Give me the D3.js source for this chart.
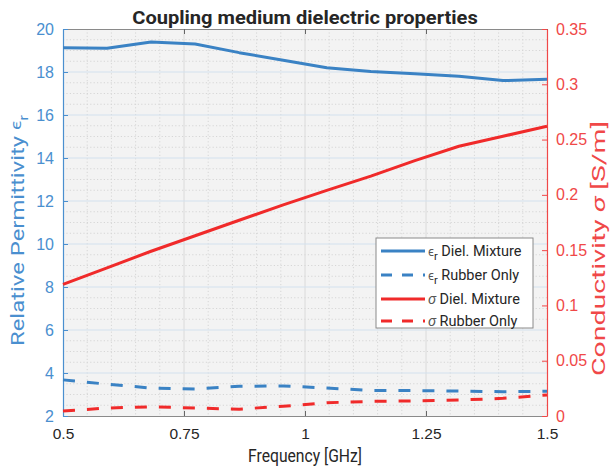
<!DOCTYPE html>
<html>
<head>
<meta charset="utf-8">
<script src="https://cdn.jsdelivr.net/npm/d3@7"></script>
<style>
  html, body { margin: 0; padding: 0; background: #fff; }
  svg { display: block; font-family: Roboto, "Noto Sans", sans-serif; }
</style>
</head>
<body>
<svg id="chart" width="612" height="470"></svg>
<script>
// Frequency sweep, 12 points from 0.5 to 1.5 GHz
const freqGHz = [0.5, 0.591, 0.682, 0.773, 0.864, 0.955, 1.045, 1.136, 1.227, 1.318, 1.409, 1.5];

// Relative permittivity (left axis)
const epsMixture = [19.13, 19.1, 19.4, 19.3, 18.9, 18.55, 18.2, 18.02, 17.92, 17.8, 17.6, 17.66];
const epsRubber  = [3.68, 3.48, 3.3, 3.26, 3.38, 3.4, 3.3, 3.19, 3.18, 3.16, 3.13, 3.15];

// Conductivity in S/m (right axis)
const sigMixture = [0.119, 0.134, 0.149, 0.163, 0.177, 0.191, 0.204, 0.217, 0.231, 0.244, 0.253, 0.262];
const sigRubber  = [0.0045, 0.0072, 0.0083, 0.0072, 0.0062, 0.0088, 0.0120, 0.0132, 0.0137, 0.0144, 0.0160, 0.0190];

// Tick values and labels
const xTicks = [0.5, 0.75, 1, 1.25, 1.5];
const xTickLabels = ["0.5", "0.75", "1", "1.25", "1.5"];
const epsTicks = [2, 4, 6, 8, 10, 12, 14, 16, 18, 20];
const sigTicks = [0, 0.05, 0.1, 0.15, 0.2, 0.25, 0.3, 0.35];
const sigTickLabels = ["0", "0.05", "0.1", "0.15", "0.2", "0.25", "0.3", "0.35"];

const legendLabels = [
  { sym: "\u03F5", sub: "r", text: " Diel. Mixture" },
  { sym: "\u03F5", sub: "r", text: " Rubber Only" },
  { sym: "\u03C3", sub: "", text: " Diel. Mixture" },
  { sym: "\u03C3", sub: "", text: " Rubber Only" }
];

const BLUE = "#3a82c4", BLUE_TXT = "#4a8fcf";
const RED = "#f02a2a", RED_TXT = "#f04848";
const DARK = "#262626";

const svg = d3.select("#chart");
const m = { left: 63, right: 547, top: 29, bottom: 416 };

const x = d3.scaleLinear().domain([0.5, 1.5]).range([m.left, m.right]);
const yL = d3.scaleLinear().domain([2, 20]).range([m.bottom, m.top]);
const yR = d3.scaleLinear().domain([0, 0.35]).range([m.bottom, m.top]);

// Stretch a text element along its own baseline to a given length
function fitLength(sel, target) {
  const w = sel.node().getBBox().width;
  const k = target / w;
  sel.attr("transform", (sel.attr("transform") || "") + ` scale(${k},1)`);
}

// Plot background
svg.append("rect")
  .attr("x", m.left).attr("y", m.top)
  .attr("width", m.right - m.left).attr("height", m.bottom - m.top)
  .attr("fill", "#f3f3f3");

const grid = svg.append("g");

// Minor grid (dotted)
const xMinor = d3.range(0.55, 1.5, 0.05).filter(v => Math.abs((v - 0.5) / 0.25 - Math.round((v - 0.5) / 0.25)) > 1e-6);
grid.selectAll(".xminor").data(xMinor).join("line")
  .attr("x1", d => x(d)).attr("x2", d => x(d))
  .attr("y1", m.top).attr("y2", m.bottom)
  .attr("stroke", "#d6d6d6").attr("stroke-width", 1).attr("stroke-dasharray", "1.2,2.2");
const yMinor = d3.range(2.5, 20, 0.5).filter(v => Math.abs(v / 2 - Math.round(v / 2)) > 1e-6);
grid.selectAll(".yminor").data(yMinor).join("line")
  .attr("x1", m.left).attr("x2", m.right)
  .attr("y1", d => yL(d)).attr("y2", d => yL(d))
  .attr("stroke", "#d6d6d6").attr("stroke-width", 1).attr("stroke-dasharray", "1.2,2.2");

// Major grid
grid.selectAll(".xmajor").data(xTicks.slice(1, -1)).join("line")
  .attr("x1", d => x(d)).attr("x2", d => x(d))
  .attr("y1", m.top).attr("y2", m.bottom)
  .attr("stroke", "#dadada").attr("stroke-width", 1);
grid.selectAll(".ymajor").data(epsTicks.slice(1, -1)).join("line")
  .attr("x1", m.left).attr("x2", m.right)
  .attr("y1", d => yL(d)).attr("y2", d => yL(d))
  .attr("stroke", "#d3e1ee").attr("stroke-width", 1);

// Axes
const xBottom = d3.axisBottom(x).tickValues(xTicks).tickFormat((d, i) => xTickLabels[i]).tickSizeInner(-5).tickSizeOuter(0).tickPadding(12);
const gx = svg.append("g").attr("transform", `translate(0,${m.bottom})`).call(xBottom);
gx.select(".domain").attr("stroke", "#8a8a8a").attr("stroke-width", 1.2);
gx.selectAll(".tick line").attr("stroke", "#666");
gx.selectAll(".tick text").attr("fill", DARK).attr("font-size", 15.5);

const xTop = d3.axisTop(x).tickValues(xTicks).tickFormat("").tickSizeInner(-5).tickSizeOuter(0);
const gxt = svg.append("g").attr("transform", `translate(0,${m.top})`).call(xTop);
gxt.select(".domain").attr("stroke", "#8a8a8a").attr("stroke-width", 1.2);
gxt.selectAll(".tick line").attr("stroke", "#666");

const yLeft = d3.axisLeft(yL).tickValues(epsTicks).tickSizeInner(-5).tickSizeOuter(0).tickPadding(9);
const gyl = svg.append("g").attr("transform", `translate(${m.left},0)`).call(yLeft);
gyl.select(".domain").attr("stroke", BLUE_TXT).attr("stroke-width", 1.2);
gyl.selectAll(".tick line").attr("stroke", BLUE_TXT);
gyl.selectAll(".tick text").attr("fill", BLUE_TXT).attr("font-size", 16);

const yRight = d3.axisRight(yR).tickValues(sigTicks).tickFormat((d, i) => sigTickLabels[i]).tickSizeInner(-5).tickSizeOuter(0).tickPadding(9);
const gyr = svg.append("g").attr("transform", `translate(${m.right},0)`).call(yRight);
gyr.select(".domain").attr("stroke", RED_TXT).attr("stroke-width", 1.2);
gyr.selectAll(".tick line").attr("stroke", RED_TXT);
gyr.selectAll(".tick text").attr("fill", RED_TXT).attr("font-size", 16);

// Data lines
const lineL = d3.line().x((d, i) => x(freqGHz[i])).y(d => yL(d));
const lineR = d3.line().x((d, i) => x(freqGHz[i])).y(d => yR(d));

const series = [
  { data: epsRubber, gen: lineL, color: BLUE, dash: "12,12" },
  { data: sigRubber, gen: lineR, color: RED, dash: "12,12" },
  { data: epsMixture, gen: lineL, color: BLUE, dash: null },
  { data: sigMixture, gen: lineR, color: RED, dash: null }
];
svg.append("g").selectAll("path").data(series).join("path")
  .attr("d", s => s.gen(s.data))
  .attr("fill", "none")
  .attr("stroke", s => s.color)
  .attr("stroke-width", 3)
  .attr("stroke-linejoin", "round")
  .attr("stroke-dasharray", s => s.dash);

// Title and axis labels
const title = svg.append("text").attr("transform", `translate(${(m.left + m.right) / 2},24)`)
  .attr("text-anchor", "middle").attr("font-size", 19).attr("font-weight", "bold")
  .attr("fill", DARK).text("Coupling medium dielectric properties");
fitLength(title, 346);

const xl = svg.append("text").attr("transform", `translate(${(m.left + m.right) / 2},462)`)
  .attr("text-anchor", "middle").attr("font-size", 18).attr("fill", DARK)
  .text("Frequency [GHz]");
fitLength(xl, 114);

const tl = svg.append("text")
  .attr("transform", `translate(24,${(m.top + m.bottom) / 2 + 8}) rotate(-90)`)
  .attr("text-anchor", "middle").attr("font-size", 18).attr("fill", BLUE_TXT);
tl.append("tspan").text("Relative Permittivity ");
tl.append("tspan").text("\u03F5").attr("font-size", 14).attr("dy", -3);
tl.append("tspan").text("r").attr("font-size", 13).attr("dy", 7);
fitLength(tl, 232);

const tr = svg.append("text")
  .attr("transform", `translate(605,${(m.top + m.bottom) / 2 + 26}) rotate(-90)`)
  .attr("text-anchor", "middle").attr("font-size", 18).attr("fill", RED_TXT);
tr.append("tspan").text("Conductivity ");
tr.append("tspan").text("\u03C3").attr("font-style", "italic");
tr.append("tspan").text(" [S/m]");
fitLength(tr, 255);

// Legend
const lg = svg.append("g");
lg.append("rect").attr("x", 376).attr("y", 238).attr("width", 157).attr("height", 90)
  .attr("fill", "#fff").attr("stroke", "#8a8a8a").attr("stroke-width", 1);
const legendStyles = [
  { color: BLUE, dash: null }, { color: BLUE, dash: "11,10" },
  { color: RED, dash: null }, { color: RED, dash: "11,10" }
];
const rowY = [251, 275, 299, 321];
legendLabels.forEach((L, i) => {
  lg.append("line").attr("x1", 381).attr("x2", 425).attr("y1", rowY[i]).attr("y2", rowY[i])
    .attr("stroke", legendStyles[i].color).attr("stroke-width", 3)
    .attr("stroke-dasharray", legendStyles[i].dash);
  const t = lg.append("text").attr("x", 428).attr("y", rowY[i] + 5)
    .attr("font-size", 14.5).attr("fill", DARK);
  if (L.sub) {
    t.append("tspan").text(L.sym).attr("font-size", 12).attr("fill", "#555");
    t.append("tspan").text(L.sub).attr("font-size", 11).attr("dy", 4);
    t.append("tspan").text(L.text).attr("dy", -4);
  } else {
    t.append("tspan").text(L.sym).attr("font-style", "italic").attr("fill", "#555");
    t.append("tspan").text(L.text);
  }
});
</script>
</body>
</html>
